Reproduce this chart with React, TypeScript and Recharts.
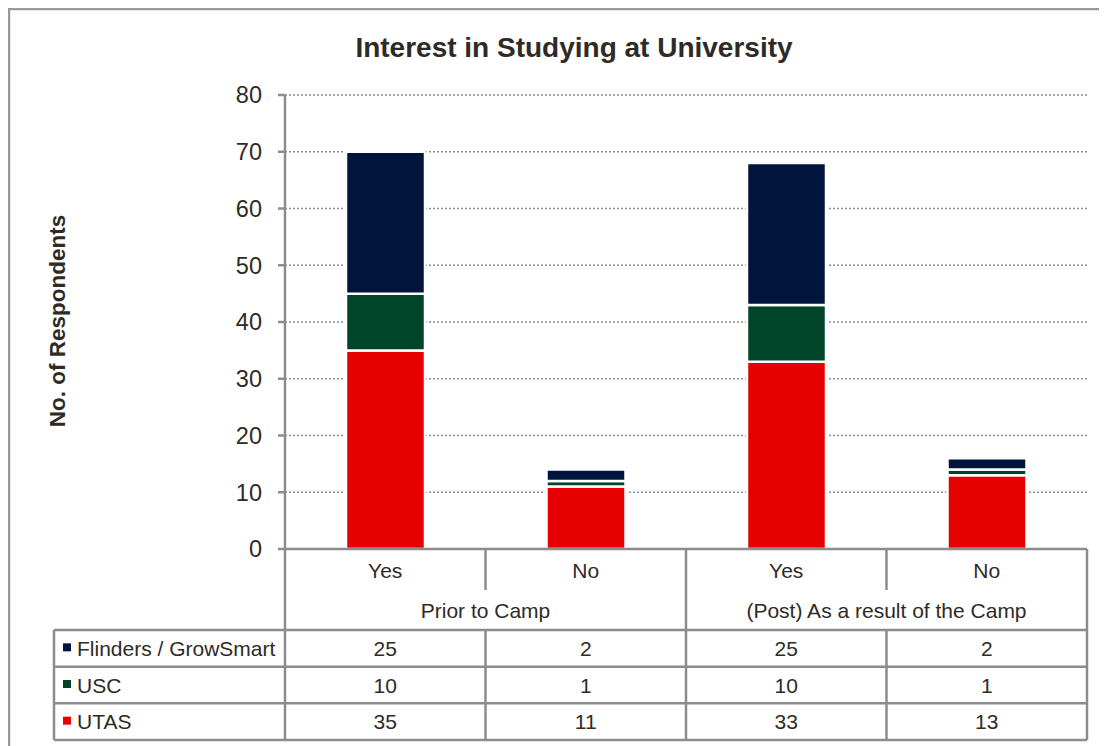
import React from "react";
import { BarChart, Bar, XAxis, YAxis, CartesianGrid } from "recharts";

const answers = ["Yes", "No", "Yes", "No"];
const groups = ["Prior to Camp", "(Post) As a result of the Camp"];
const flinders = [25, 2, 25, 2];
const usc = [10, 1, 10, 1];
const utas = [35, 11, 33, 13];
const yTicks = [0, 10, 20, 30, 40, 50, 60, 70, 80];

const seriesNames = ["Flinders / GrowSmart", "USC", "UTAS"];
const seriesColors = ["#00143C", "#004429", "#E60000"];
const seriesValues = [flinders, usc, utas];

const data = answers.map((a, i) => ({
  key: `c${i}`,
  answer: a,
  utas: utas[i],
  usc: usc[i],
  flinders: flinders[i],
}));

const FONT = "'Liberation Sans', Arial, sans-serif";
const TXT = "#2e2b26";
const LINE = "#8c8c8c";

const W = 1107;
const H = 746;
const PL = 285;
const PR = 1087;
const PT = 95;
const PB = 549;
const colW = (PR - PL) / answers.length;

const CatTick = (props: any) => {
  const { x, y, payload } = props;
  const label = answers[payload.index] ?? "";
  return (
    <text x={x} y={y + 29} textAnchor="middle" fontSize={21} fontFamily={FONT} fill={TXT}>
      {label}
    </text>
  );
};

const Overlay = () => {
  const tableTop = 630;
  const rowH = (740 - 630) / 3;
  const lines: React.ReactNode[] = [];
  for (let i = 0; i <= answers.length; i++) {
    const x = PL + i * colW;
    const full = i === 0 || i === answers.length || i === answers.length / 2;
    if (full) {
      lines.push(<line key={`v${i}`} x1={x} x2={x} y1={PB} y2={740} />);
    } else {
      lines.push(<line key={`va${i}`} x1={x} x2={x} y1={PB} y2={590} />);
      lines.push(<line key={`vb${i}`} x1={x} x2={x} y1={tableTop} y2={740} />);
    }
  }
  lines.push(<line key="vl" x1={54} x2={54} y1={tableTop} y2={740} />);
  for (let r = 0; r <= 3; r++) {
    const y = tableTop + r * rowH;
    lines.push(<line key={`h${r}`} x1={54} x2={PR} y1={y} y2={y} />);
  }
  return (
    <svg
      width={W}
      height={H}
      style={{ position: "absolute", left: -8, top: -8, pointerEvents: "none", display: "block" }}
    >
      <g stroke="#999" strokeWidth={2.5}>
        <line x1={9} x2={9} y1={8} y2={H} />
        <line x1={8} x2={W} y1={9} y2={9} />
      </g>
      <text
        x={574}
        y={57}
        textAnchor="middle"
        fontSize={28}
        fontWeight="bold"
        fontFamily={FONT}
        fill={TXT}
      >
        Interest in Studying at University
      </text>
      <text
        x={0}
        y={0}
        transform={`translate(65,321) rotate(-90)`}
        textAnchor="middle"
        fontSize={22.5}
        fontWeight="bold"
        fontFamily={FONT}
        fill={TXT}
      >
        No. of Respondents
      </text>
      <g stroke={LINE} strokeWidth={2.5}>{lines}</g>
      {groups.map((g, gi) => (
        <text
          key={g}
          x={PL + colW * (gi * 2 + 1)}
          y={618}
          textAnchor="middle"
          fontSize={21}
          fontFamily={FONT}
          fill={TXT}
        >
          {g}
        </text>
      ))}
      {seriesNames.map((name, si) => {
        const cy = tableTop + rowH * si + rowH / 2;
        return (
          <g key={name}>
            <rect x={63} y={cy - 5} width={8} height={8} fill={seriesColors[si]} />
            <text x={77} y={cy + 7.5} fontSize={21} fontFamily={FONT} fill={TXT}>
              {name}
            </text>
            {seriesValues[si].map((v, ci) => (
              <text
                key={ci}
                x={PL + colW * ci + colW / 2}
                y={cy + 7.5}
                textAnchor="middle"
                fontSize={21}
                fontFamily={FONT}
                fill={TXT}
              >
                {v}
              </text>
            ))}
          </g>
        );
      })}
    </svg>
  );
};

export default function App() {
  const yAxisW = 80;
  return (
    <div style={{ position: "relative", width: W, height: H - 8 }}>
      <style>{`html,body{overflow:hidden}`}</style>
      <div style={{ position: "absolute", left: -8, top: -8 }}>
        <BarChart
          width={W}
          height={H}
          data={data}
          margin={{ top: PT, right: W - PR, bottom: H - PB - 41, left: PL - yAxisW }}
          barSize={79}
        >
          <CartesianGrid
            vertical={false}
            stroke={LINE}
            strokeWidth={1.5}
            strokeDasharray="2 2"
          />
          <XAxis
            dataKey="key"
            height={41}
            axisLine={{ stroke: LINE, strokeWidth: 2.5 }}
            tickLine={false}
            tickSize={0}
            tickMargin={0}
            tick={<CatTick />}
            interval={0}
          />
          <YAxis
            width={yAxisW}
            domain={[0, 80]}
            ticks={yTicks}
            interval={0}
            axisLine={{ stroke: LINE, strokeWidth: 2.5 }}
            tickLine={{ stroke: LINE, strokeWidth: 2.5 }}
            tickSize={7}
            tickMargin={16}
            tick={{ fontSize: 23.5, fontFamily: FONT, fill: TXT }}
          />
          <Bar dataKey="utas" stackId="a" fill={seriesColors[2]} stroke="#fff" strokeWidth={2.5} isAnimationActive={false} />
          <Bar dataKey="usc" stackId="a" fill={seriesColors[1]} stroke="#fff" strokeWidth={2.5} isAnimationActive={false} />
          <Bar dataKey="flinders" stackId="a" fill={seriesColors[0]} stroke="#fff" strokeWidth={2.5} isAnimationActive={false} />
        </BarChart>
      </div>
      <Overlay />
    </div>
  );
}
